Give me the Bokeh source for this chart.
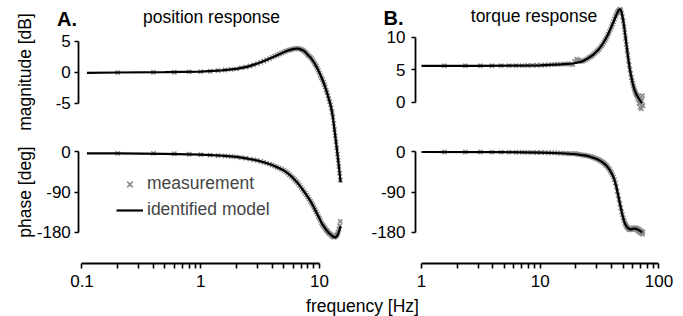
from bokeh.plotting import figure
from bokeh.models import (Range1d, LogScale, LinearAxis, FixedTicker, Label, Legend,
                          LegendItem, CustomJSTickFormatter)
from bokeh.embed import file_html
from bokeh.resources import INLINE

# ---------------- data ----------------
# A. position response -- identified model
pos_model_f = [0.11, 0.2, 0.5, 1, 1.5, 2, 2.5, 3, 3.5, 4, 4.5, 5, 5.5, 6, 6.5, 7, 7.5, 8, 8.5, 9,
               9.5, 10, 10.5, 11, 11.5, 12, 12.5, 13, 13.5, 14, 14.5, 15.1]
pos_model_mag = [-0.1, -0.05, 0, 0.1, 0.3, 0.55, 0.9, 1.4, 1.9, 2.4, 2.85, 3.25, 3.55, 3.75, 3.85, 3.7,
                 3.4, 2.8, 2.3, 1.6, 0.8, -0.1, -1.0, -2.0, -3.1, -4.3, -5.5, -7.3, -9.8, -12.3, -14.8, -17.9]
pos_model_phase = [-3, -3, -4, -6, -8, -11, -15, -19, -24, -29, -35, -41, -49, -58, -68, -79,
                   -90, -101, -112, -124, -137, -148, -160, -168, -175, -181, -185, -189, -191, -189, -181, -166]

# A. position response -- measurement
pos_meas_f = [0.2, 0.4, 0.6, 0.8, 1.0, 1.2, 1.4, 1.6, 1.8, 2.0,
              2.2, 2.4, 2.6, 2.8, 3.0, 3.2, 3.4, 3.6, 3.8, 4.0,
              4.2, 4.4, 4.6, 4.8, 5.0, 5.2, 5.4, 5.6, 5.8, 6.0,
              6.2, 6.4, 6.6, 6.8, 7.0, 7.2, 7.4, 7.6, 7.8, 8.0,
              8.2, 8.4, 8.6, 8.8, 9.0, 9.2, 9.4, 9.6, 9.8, 10.0,
              10.2, 10.4, 10.6, 10.8, 11.0, 11.2, 11.4, 11.6, 11.8, 12.0,
              12.2, 12.4, 12.6, 12.8, 13.0, 13.2, 13.4, 13.6, 13.8, 14.0,
              14.2, 14.4, 14.6, 14.8, 15.0]
pos_meas_mag = [-0.05, 0, 0, 0.05, 0.1, 0.15, 0.25, 0.35, 0.45, 0.55,
                0.7, 0.85, 1.0, 1.2, 1.4, 1.6, 1.8, 2.0, 2.2, 2.4,
                2.6, 2.75, 2.95, 3.1, 3.25, 3.4, 3.5, 3.6, 3.7, 3.75,
                3.8, 3.85, 3.85, 3.8, 3.7, 3.6, 3.45, 3.25, 3.05, 2.8,
                2.6, 2.4, 2.2, 1.9, 1.6, 1.3, 1.0, 0.65, 0.3, -0.1,
                -0.5, -0.9, -1.2, -1.6, -2.0, -2.4, -2.9, -3.3, -3.8, -4.3,
                -4.8, -5.3, -5.8, -6.5, -7.3, -8.3, -9.3, -10.3, -11.3, -12.3,
                -13.3, -14.3, -15.3, -16.4, -17.5]
pos_meas_phase = [-3, -3, -4, -5, -6, -7, -8, -9, -10, -11,
                  -12.5, -14, -16, -17.5, -19, -21, -23, -25, -27, -29,
                  -31.5, -34, -36, -38.5, -41, -44, -47, -51, -54.5, -58,
                  -62, -66, -70, -74.5, -79, -83.5, -88, -92, -96.5, -101,
                  -105.5, -110, -114.5, -119, -124, -129, -134, -139, -144, -148,
                  -153, -158, -162, -165, -168, -171, -174, -176, -179, -181,
                  -183, -184, -186, -188, -189, -190, -190, -189, -188, -186,
                  -183, -179, -173, -165, -155]

# B. torque response -- identified model
trq_model_mag_f = [1, 3, 6, 10, 15, 19, 22, 25, 28, 31, 34, 37, 40, 42, 44, 45, 46, 47, 48, 49,
                   50, 51, 52, 53, 54, 55, 56, 57, 58, 60, 62, 65, 68, 72]
trq_model_mag = [5.6, 5.6, 5.62, 5.68, 5.82, 5.95, 6.2, 6.7, 7.3, 8.1, 9.1, 10.3, 11.7, 12.6, 13.5, 13.9,
                 14.2, 14.3, 14.1, 13.5, 12.6, 11.6, 10.4, 9.2, 8.0, 6.9, 5.9, 5.0, 4.3, 3.0, 2.0, 1.1, 0.5, -0.2]
trq_model_phase_f = [1, 5, 10, 15, 20, 25, 30, 33, 36, 38, 40, 41, 42, 43, 44, 45, 46, 47, 48, 49,
                     50, 51, 52, 53, 54, 56, 58, 60, 62, 64, 66, 68, 70, 72]
trq_model_phase = [0, -0.4, -1.2, -2.8, -5, -8.6, -15.5, -21.5, -30, -38, -48, -54, -61, -70, -80, -92,
                   -104, -116, -127, -138, -147, -155, -161, -165, -168, -172, -173, -172, -171, -172,
                   -173, -175, -177, -180]

# B. torque response -- measurement
trq_meas_f = [1.56, 2.34, 3.13, 3.91, 4.69, 5.47, 6.25, 7.03, 7.81, 8.59,
              9.38, 10.16, 10.94, 11.72, 12.5, 13.28, 14.06, 14.84, 15.63, 16.41,
              17.19, 17.97, 18.75, 19.53, 20.31, 21.09, 21.88, 22.66, 23.44, 24.22,
              25.0, 25.78, 26.56, 27.34, 28.13, 28.91, 29.69, 30.47, 31.25, 32.03,
              32.81, 33.59, 34.38, 35.16, 35.94, 36.72, 37.5, 38.28, 39.06, 39.84,
              40.63, 41.41, 42.19, 42.97, 43.75, 44.53, 45.31, 46.09, 46.88, 47.66,
              48.44, 49.22, 50.0, 50.78, 51.56, 52.34, 53.13, 53.91, 54.69, 55.47,
              56.25, 57.03, 57.81, 58.59, 59.38, 60.16, 60.94, 61.72, 62.5, 63.28,
              64.06, 64.84, 65.63, 66.41, 67.19, 67.97, 68.75, 69.53, 70.31, 71.09,
              71.88, 72.66, 73.44]
trq_meas_mag = [5.6, 5.6, 5.6, 5.6, 5.62, 5.62, 5.63, 5.63, 5.65, 5.66,
                5.68, 5.7, 5.72, 5.75, 5.78, 5.8, 5.82, 5.85, 5.85, 5.87,
                5.9, 5.85, 5.8, 6.3, 6.6, 6.5, 6.3, 6.3, 6.4, 6.55,
                6.7, 6.85, 7.0, 7.15, 7.35, 7.55, 7.75, 7.95, 8.15, 8.4,
                8.65, 8.9, 9.2, 9.5, 9.8, 10.15, 10.5, 10.85, 11.2, 11.6,
                12.0, 12.4, 12.8, 13.2, 13.5, 13.8, 14.0, 14.2, 14.3, 14.1,
                13.7, 13.2, 12.5, 11.6, 10.7, 9.8, 8.9, 8.0, 7.2, 6.4,
                5.7, 5.0, 4.4, 3.8, 3.3, 2.9, 2.5, 2.1, 1.8, 1.5,
                1.3, 1.1, 0.9, 0.5, 1.0, -0.2, 0.3, -0.8, 0.8, -1.0,
                0.2, 1.0, -0.5]
trq_meas_phase = [0, 0, 0, -0.2, -0.3, -0.4, -0.5, -0.6, -0.8, -0.9,
                  -1.0, -1.2, -1.4, -1.6, -1.8, -2.0, -2.3, -2.6, -2.9, -3.2,
                  -3.5, -3.9, -4.3, -3.0, -4.5, -5.5, -6.0, -6.6, -7.2, -7.9,
                  -8.6, -9.4, -10.3, -11.3, -12.4, -13.6, -14.8, -16.2, -17.6, -19.2,
                  -21.0, -22.9, -25.0, -27.3, -29.8, -32.5, -35.5, -38.8, -42.5, -46.5,
                  -51, -56, -62, -69, -78, -88, -97, -106, -116, -125,
                  -134, -140, -147, -153, -158, -162, -165, -168, -170, -172,
                  -173, -174, -173, -172, -171, -170, -171, -172, -169, -173,
                  -170, -174, -171, -176, -172, -178, -174, -180, -176, -182,
                  -178, -184, -179]

# axis ticks
mag_ticks_A = [-5, 0, 5]
mag_ticks_B = [0, 5, 10]
phase_ticks = [-180, -90, 0]
freq_ticks_A = [0.1, 1, 10]
freq_minor_A = [0.2, 0.3, 0.4, 0.5, 0.6, 0.7, 0.8, 0.9, 2, 3, 4, 5, 6, 7, 8, 9]
freq_ticks_B = [1, 10, 100]
freq_minor_B = [2, 3, 4, 5, 6, 7, 8, 9, 20, 30, 40, 50, 60, 70, 80, 90]

# ---------------- styling ----------------
FONT = "Liberation Sans"
GRAY = "#8c8c8c"
TICK_FS = "17px"
LABEL_FS = "17.5px"
W, H = 683, 316

p = figure(width=W, height=H, output_backend="svg", toolbar_location=None,
           x_axis_type="log", x_range=Range1d(0.020579, 11680.0),
           y_range=Range1d(-39.659, 11.6396),
           x_axis_location=None, y_axis_location=None, title=None,
           min_border_left=0, min_border_right=0, min_border_top=0, min_border_bottom=0,
           outline_line_color=None)
p.grid.visible = False
p.extra_x_ranges = {"B": Range1d(2.8393e-4, 161.1)}
p.extra_x_scales = {"B": LogScale()}
p.extra_y_ranges = {"magB": Range1d(-32.969, 15.646), "phase": Range1d(-367.83, 338.76)}

# measurements (gray crosses)
mk = dict(marker="x", size=6, line_color=GRAY, line_width=1.6)
r_meas = p.scatter(pos_meas_f, pos_meas_mag, **mk)
p.scatter(pos_meas_f, pos_meas_phase, y_range_name="phase", **mk)
p.scatter(trq_meas_f, trq_meas_mag, x_range_name="B", y_range_name="magB", **mk)
p.scatter(trq_meas_f, trq_meas_phase, x_range_name="B", y_range_name="phase", **mk)

# identified model (black lines)
ln = dict(line_color="black", line_width=2.2)
p.line(pos_model_f, pos_model_mag, **ln)
r_model = p.line(pos_model_f, pos_model_phase, y_range_name="phase", **ln)
p.line(trq_model_mag_f, trq_model_mag, x_range_name="B", y_range_name="magB", **ln)
p.line(trq_model_phase_f, trq_model_phase, x_range_name="B", y_range_name="phase", **ln)

fmt_code = "return tick.toString()"


def style_axis(ax, standoff):
    ax.axis_line_width = 1.8
    ax.axis_line_color = "black"
    ax.major_tick_line_width = 1.6
    ax.major_tick_line_color = "black"
    ax.minor_tick_line_width = 1.6
    ax.minor_tick_line_color = "black"
    ax.major_label_text_font = FONT
    ax.major_label_text_font_size = TICK_FS
    ax.major_label_text_color = "black"
    ax.major_label_standoff = standoff


def y_axis(yname, xname, loc, bounds, ticks, standoff):
    ax = LinearAxis(y_range_name=yname, x_range_name=xname, fixed_location=loc, bounds=bounds,
                    ticker=FixedTicker(ticks=ticks, minor_ticks=[]),
                    formatter=CustomJSTickFormatter(code=fmt_code))
    style_axis(ax, standoff)
    ax.major_tick_out = 4
    ax.major_tick_in = 0
    ax.minor_tick_out = 0
    ax.minor_tick_in = 0
    p.add_layout(ax, "left")


y_axis("default", "default", 0.09398, (-5, 5), mag_ticks_A, 4)
y_axis("phase", "default", 0.09398, (-180, 0), phase_ticks, 4)
y_axis("magB", "B", 0.8902, (0, 10), mag_ticks_B, 6)
y_axis("phase", "B", 0.8902, (-180, 0), phase_ticks, 6)


def x_axis(xname, bounds, ticks, minor):
    ax = LinearAxis(x_range_name=xname, y_range_name="phase", fixed_location=-250.0, bounds=bounds,
                    ticker=FixedTicker(ticks=ticks, minor_ticks=minor),
                    formatter=CustomJSTickFormatter(code=fmt_code))
    style_axis(ax, 6)
    ax.major_tick_out = 5
    ax.major_tick_in = 0
    ax.minor_tick_out = 5
    ax.minor_tick_in = 0
    p.add_layout(ax, "below")


x_axis("default", (0.1, 10), freq_ticks_A, freq_minor_A)
x_axis("B", (1, 100), freq_ticks_B, freq_minor_B)

# texts (screen units: pixels from the frame's bottom-left corner)
txt = dict(x_units="screen", y_units="screen", text_font=FONT, text_color="black",
           text_baseline="alphabetic")
p.add_layout(Label(x=56.5, y=297.5, text="A.", text_font_size="20px", text_font_style="bold", **txt))
p.add_layout(Label(x=383, y=298.5, text="B.", text_font_size="20px", text_font_style="bold", **txt))
p.add_layout(Label(x=211, y=300, text="position response", text_align="center",
                   text_font_size=LABEL_FS, **txt))
p.add_layout(Label(x=533.5, y=300.5, text="torque response", text_align="center",
                   text_font_size=LABEL_FS, **txt))
rot = dict(x_units="screen", y_units="screen", text_font=FONT, text_color="black",
           angle=90, angle_units="deg", text_align="center", text_baseline="middle",
           text_font_size=LABEL_FS)
p.add_layout(Label(x=24.5, y=244.5, text="magnitude [dB]", **rot))
p.add_layout(Label(x=24.5, y=124.5, text="phase [deg]", **rot))
p.add_layout(Label(x=362, y=10.5, text="frequency [Hz]", text_align="center",
                   text_font_size=LABEL_FS, **txt))

legend = Legend(items=[LegendItem(label="measurement", renderers=[r_meas]),
                       LegendItem(label="identified model", renderers=[r_model])],
                location=(116, 96), orientation="vertical", background_fill_alpha=0,
                border_line_color=None, padding=0, margin=0, spacing=5,
                glyph_width=27, glyph_height=20, label_height=20, label_standoff=4,
                label_text_font=FONT, label_text_font_size=LABEL_FS)
p.add_layout(legend)

open("out.html", "w").write(file_html(p, INLINE))
